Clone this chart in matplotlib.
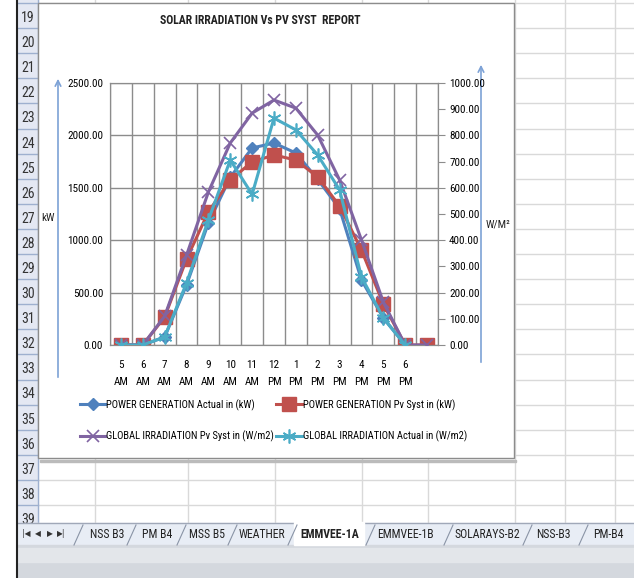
import matplotlib
matplotlib.use('Agg')
import numpy as np
import matplotlib.pyplot as plt
from matplotlib import font_manager
from matplotlib.patches import Rectangle

# pick a narrow font (Calibri-like look)
fonts = font_manager.fontManager.ttflist
names = set(f.name for f in fonts)
FONT, STRETCH = 'Liberation Sans', 'normal'
for cand in ['Liberation Sans Narrow', 'Roboto Condensed', 'Open Sans Condensed',
             'DejaVu Sans Condensed']:
    if cand in names:
        FONT = cand
        break
else:
    if any(f.name == 'DejaVu Sans' and str(f.stretch) in ('condensed', 'semi-condensed')
           for f in fonts):
        FONT, STRETCH = 'DejaVu Sans', 'condensed'
plt.rcParams['font.family'] = [FONT, 'DejaVu Sans']
plt.rcParams['font.stretch'] = STRETCH

# data
hours = ['5\nAM', '6\nAM', '7\nAM', '8\nAM', '9\nAM', '10\nAM', '11\nAM', '12\nPM',
         '1\nPM', '2\nPM', '3\nPM', '4\nPM', '5\nPM', '6\nPM', '']
power_actual = [0, 0, 76, 573, 1164, 1600, 1880, 1927, 1832, 1580, 1300, 620, 258, 0, np.nan]
power_pvsyst = [0, 0, 267, 820, 1270, 1575, 1747, 1813, 1765, 1603, 1326, 906, 391, 0, 0]
irr_pvsyst = [0, 0, 110, 343, 584, 771, 885, 935, 904, 801, 630, 401, 164, 0, 0]
irr_actual = [0, 0, 31, 237, 477, 706, 575, 866, 821, 725, 592, 260, 103, 0, np.nan]

labels = ['POWER GENERATION Actual in (kW)', 'POWER GENERATION Pv Syst in (kW)',
          'GLOBAL IRRADIATION Pv Syst in (W/m2)', 'GLOBAL IRRADIATION Actual in (W/m2)']
tabs = ['NSS B3', 'PM B4', 'MSS B5', 'WEATHER', 'EMMVEE-1A', 'EMMVEE-1B',
        'SOLARAYS-B2', 'NSS-B3', 'PM-B4']
tab_x = [107, 157, 207, 262, 330, 405, 487, 553, 608]
tab_sep = [78, 131, 181, 232, 292, 370, 448, 527, 583]

W, H = 634, 578
fig = plt.figure(figsize=(W/100, H/100), dpi=100)

# spreadsheet background in pixel coords
bg = fig.add_axes([0, 0, 1, 1])
bg.set_xlim(0, W)
bg.set_ylim(H, 0)
bg.axis('off')
bg.add_patch(Rectangle((0, 0), W, H, color='white', zorder=0))
for cx in [95, 188, 275, 362, 428, 515, 565, 615]:
    bg.plot([cx, cx], [0, 523], color='#d9d9d9', lw=1, zorder=1)
for i in range(22):
    ry = 3 + 25.1*i
    bg.plot([38, W], [ry, ry], color='#d9d9d9', lw=1, zorder=1)
# row header
bg.add_patch(Rectangle((17, 0), 21, 523, color='#e4e8f3', zorder=2))
for i in range(22):
    ry = 3 + 25.1*i
    bg.plot([17, 38], [ry, ry], color='#9eb0cf', lw=1, zorder=3)
    if ry + 15 < 523:
        bg.text(28, ry + 15, str(19 + i), ha='center', va='center', fontsize=10,
                color='#333333', zorder=3)
bg.plot([38, 38], [0, 523], color='#9eb0cf', lw=1, zorder=3)
bg.plot([17, 17], [0, H], color='#222222', lw=1.5, zorder=6)
# tab bar
bg.add_patch(Rectangle((17, 523), W-17, 22, color='#e8edf5', zorder=4))
bg.plot([17, W], [523, 523], color='#a0a8b8', lw=1, zorder=5)
bg.add_patch(Rectangle((17, 545), W-17, 33, color='#d4d8de', zorder=4))
bg.add_patch(Rectangle((17, 548), W-17, 14, color='#e3e6ea', zorder=4))
for nx, s in zip([26, 38, 50, 61], ['|◀', '◀', '▶', '▶|']):
    bg.text(nx, 534, s, ha='center', va='center', fontsize=5.5, color='#333333',
            family='DejaVu Sans', stretch='normal', zorder=6)
for tx, t in zip(tab_x, tabs):
    active = t == 'EMMVEE-1A'
    if active:
        bg.add_patch(Rectangle((tx-36, 522), 70, 23, color='white', zorder=5))
    bg.text(tx, 534, t, ha='center', va='center', fontsize=8.5,
            weight='bold' if active else 'normal', color='#222222', zorder=6)
for sx in tab_sep:
    bg.plot([sx-4, sx+5], [545, 525], color='#8a94a6', lw=0.8, zorder=6)

# chart frame
bg.add_patch(Rectangle((40, 460), 476, 2, color='#bbbbbb', zorder=6))
bg.add_patch(Rectangle((38, 3), 476, 455, facecolor='white', edgecolor='#8c8c8c',
                       lw=1, zorder=7))
bg.text(260, 21, 'SOLAR IRRADIATION Vs PV SYST  REPORT', ha='center', va='center',
        fontsize=8.5, weight='bold', color='#222222', zorder=8)
# axis arrows
bg.annotate('', xy=(58, 76), xytext=(58, 380),
            arrowprops=dict(arrowstyle='->', color='#7da2d6', lw=1.2), zorder=8)
bg.annotate('', xy=(481, 62), xytext=(481, 365),
            arrowprops=dict(arrowstyle='->', color='#7da2d6', lw=1.2), zorder=8)
bg.text(48, 218, 'kW', ha='center', va='center', fontsize=8, color='#222222', zorder=8)
bg.text(498, 225, 'W/M²', ha='center', va='center', fontsize=8, color='#222222', zorder=8)

# chart
x = np.arange(len(hours))
ax = fig.add_axes([110/W, 1-345/H, 328/W, 262/H], zorder=5)
ax.set_facecolor('white')
ax.set_xlim(-0.5, len(hours)-0.5)
ax.set_ylim(0, 2500)
ax.set_yticks(np.arange(0, 2501, 500))
ax.set_yticklabels(['%.2f' % v for v in np.arange(0, 2501, 500)], fontsize=8)
ax.set_xticks(x)
ax.set_xticklabels(hours, fontsize=8, linespacing=1.9)
ax.set_xticks(np.arange(-0.5, len(hours), 1), minor=True)
ax.tick_params(axis='x', which='both', length=0, pad=11)
ax.tick_params(axis='y', length=0, pad=5)
ax.grid(True, which='minor', axis='x', color='#8c8c8c', lw=1)
ax.grid(True, which='major', axis='y', color='#8c8c8c', lw=1)
for s in ax.spines.values():
    s.set_color('#8c8c8c')

h1, = ax.plot(x, power_actual, color='#4f81bd', lw=2.2, marker='D', ms=6, zorder=3)
h2, = ax.plot(x, power_pvsyst, color='#c0504d', lw=2.2, marker='s', ms=10, zorder=3)

ax2 = ax.twinx()
ax2.set_ylim(0, 1000)
ax2.set_yticks(np.arange(0, 1001, 100))
ax2.set_yticklabels(['%.2f' % v for v in np.arange(0, 1001, 100)], fontsize=8)
ax2.tick_params(axis='y', length=5, color='#8c8c8c', pad=3)
for s in ax2.spines.values():
    s.set_color('#8c8c8c')
h3, = ax2.plot(x, irr_pvsyst, color='#8064a2', lw=2.2, marker='x', ms=8, mew=1.2, zorder=3)
h4, = ax2.plot(x, irr_actual, color='#4bacc6', lw=2.2, marker=(6, 2, 0), ms=10, mew=1.2, zorder=3)

# legend filled column-wise, so order gives rows (h1, h2) and (h3, h4)
fig.legend([h1, h3, h2, h4], [labels[0], labels[2], labels[1], labels[3]], ncol=2,
           frameon=False, fontsize=7.6, loc='upper left', bbox_to_anchor=(80/W, 1-399/H),
           handlelength=2.4, handletextpad=0.1, columnspacing=0.2, labelspacing=1.9,
           borderaxespad=0, borderpad=0)

fig.savefig('out.png', dpi=100)
